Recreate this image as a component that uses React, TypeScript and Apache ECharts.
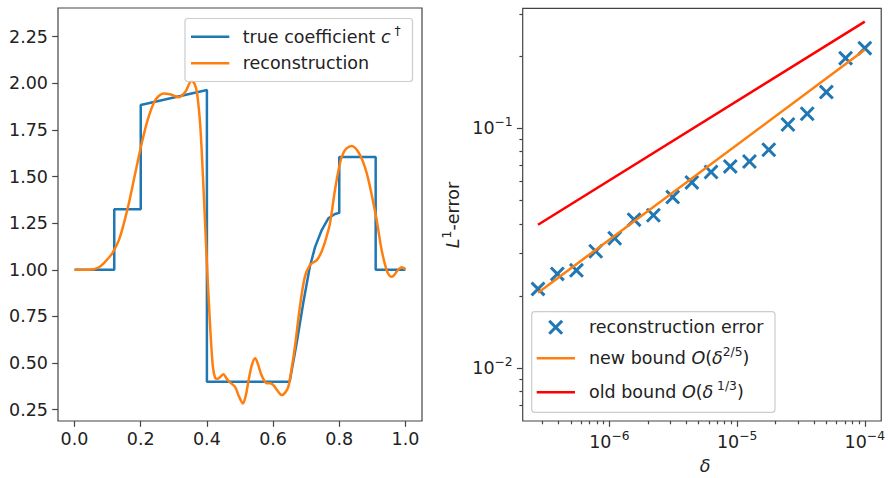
import React, { useEffect, useRef } from 'react';
import * as echarts from 'echarts';

// ---------- data: left panel ----------
const trueX = [0, 0.12, 0.12, 0.2, 0.2, 0.4, 0.4, 0.65, 0.671, 0.691, 0.711, 0.727, 0.747, 0.767, 0.787, 0.8, 0.8, 0.91, 0.91, 1.0];
const trueY = [1, 1, 1.324, 1.324, 1.884, 1.964, 0.4, 0.4, 0.605, 0.82, 1.016, 1.123, 1.213, 1.276, 1.299, 1.305, 1.605, 1.605, 1.0, 1.0];

const reconX = [0, 0.03, 0.058, 0.075, 0.088, 0.1, 0.114, 0.134, 0.149, 0.164, 0.179, 0.194, 0.209, 0.224, 0.244, 0.269, 0.289, 0.314, 0.335, 0.353, 0.362, 0.37, 0.38, 0.388, 0.395, 0.402, 0.41, 0.418, 0.425, 0.432, 0.44, 0.45, 0.46, 0.468, 0.485, 0.497, 0.509, 0.518, 0.526, 0.536, 0.546, 0.555, 0.563, 0.572, 0.581, 0.591, 0.601, 0.614, 0.626, 0.636, 0.646, 0.656, 0.666, 0.681, 0.696, 0.711, 0.722, 0.732, 0.742, 0.752, 0.762, 0.772, 0.787, 0.802, 0.812, 0.822, 0.837, 0.847, 0.857, 0.867, 0.877, 0.887, 0.897, 0.913, 0.928, 0.943, 0.951, 0.958, 0.966, 0.973, 0.981, 0.988, 0.994, 1.0];
const reconY = [1.0, 1.0, 1.003, 1.015, 1.034, 1.058, 1.088, 1.159, 1.249, 1.356, 1.481, 1.606, 1.723, 1.821, 1.91, 1.946, 1.941, 1.925, 1.955, 2.012, 2.0, 1.95, 1.77, 1.5, 1.23, 0.96, 0.69, 0.48, 0.42, 0.415, 0.425, 0.44, 0.415, 0.399, 0.372, 0.32, 0.283, 0.33, 0.408, 0.49, 0.525, 0.49, 0.444, 0.41, 0.391, 0.392, 0.381, 0.35, 0.328, 0.34, 0.372, 0.47, 0.587, 0.802, 0.962, 1.025, 1.04, 1.052, 1.08, 1.123, 1.18, 1.249, 1.428, 1.571, 1.625, 1.651, 1.664, 1.655, 1.633, 1.6, 1.553, 1.49, 1.41, 1.267, 1.106, 0.998, 0.97, 0.962, 0.972, 0.989, 1.005, 1.013, 1.01, 1.002];

const leftXTicks = [0, 0.2, 0.4, 0.6, 0.8, 1.0];
const leftYTicks = [0.25, 0.5, 0.75, 1.0, 1.25, 1.5, 1.75, 2.0, 2.25];

// ---------- data: right panel ----------
const deltas = [2.76e-7, 3.91e-7, 5.52e-7, 7.81e-7, 1.1e-6, 1.56e-6, 2.21e-6, 3.13e-6, 4.42e-6, 6.25e-6, 8.84e-6, 1.25e-5, 1.77e-5, 2.5e-5, 3.54e-5, 5e-5, 7.07e-5, 1e-4];
const errors = [0.02138, 0.02469, 0.02557, 0.0307, 0.0348, 0.0416, 0.0434, 0.0517, 0.0595, 0.0658, 0.0694, 0.0728, 0.0815, 0.1039, 0.1152, 0.1419, 0.1966, 0.2164];
const boundDelta = [2.76e-7, 1e-4];
const newBound = [0.0206, 0.213];
const oldBound = [0.0396, 0.2795];

const rightXMajor = [1e-6, 1e-5, 1e-4];
const rightXMinor = [3e-7, 4e-7, 5e-7, 6e-7, 7e-7, 8e-7, 9e-7, 2e-6, 3e-6, 4e-6, 5e-6, 6e-6, 7e-6, 8e-6, 9e-6, 2e-5, 3e-5, 4e-5, 5e-5, 6e-5, 7e-5, 8e-5, 9e-5];
const rightYMajor = [1e-2, 1e-1];
const rightYMinor = [7e-3, 8e-3, 9e-3, 2e-2, 3e-2, 4e-2, 5e-2, 6e-2, 7e-2, 8e-2, 9e-2, 2e-1, 3e-1];
const rightXRange = [2.094e-7, 1.345e-4];
const rightYRange = [6.0e-3, 0.3177];

// ---------- styles ----------
const FONT = 'DejaVu Sans';
const FS = 17.5;
const SUP = 12.3;
const TXT = '#222222';
const SPINE = '#444444';
const BLUE = '#1f77b4';
const ORANGE = '#ff7f0e';
const RED = '#ff0000';

const lg = (v: number) => Math.log10(v);

const xUnit: number[][] = [[1.4, 0], [5, 3.6], [8.6, 0], [10, 1.4], [6.4, 5], [10, 8.6], [8.6, 10], [5, 6.4], [1.4, 10], [0, 8.6], [3.6, 5], [0, 1.4]];
const xPath = 'path://M' + xUnit.map((p) => p[0] + ',' + p[1]).join('L') + 'Z';

const axisRich = {
  b: { fontSize: FS, fontFamily: FONT, lineHeight: 24, color: TXT },
  s: { fontSize: SUP, fontFamily: FONT, lineHeight: 14, verticalAlign: 'top', color: TXT },
};

const gRich = {
  n: { fontSize: FS, fontFamily: FONT, lineHeight: 24, fill: TXT },
  i: { fontSize: FS, fontFamily: FONT, fontStyle: 'italic', lineHeight: 24, fill: TXT },
  s: { fontSize: SUP, fontFamily: FONT, lineHeight: 14, verticalAlign: 'top', fill: TXT },
};

const tickStyle = { color: SPINE, width: 1.2 };
const noLine = { show: false, onZero: false };

function supLabel(v: number) {
  const e = Math.round(v);
  return '{b|10}{s|\u2212' + Math.abs(e) + '}';
}

function gText(x: number, y: number, text: string, extra: any = {}) {
  return {
    type: 'text',
    x,
    y,
    z: 20,
    ...extra,
    style: { text, rich: gRich, fill: TXT, align: 'left', verticalAlign: 'middle', fontFamily: FONT, fontSize: FS },
  };
}

export default function App() {
  const ref = useRef<HTMLDivElement>(null);
  useEffect(() => {
    if (!ref.current) return;
    const chart = echarts.init(ref.current, null, { renderer: 'svg' });

    const trueData = trueX.map((x, i) => [x, trueY[i]]);
    const reconData = reconX.map((x, i) => [x, reconY[i]]);
    const errData = deltas.map((d, i) => [lg(d), lg(errors[i])]);
    const newData = boundDelta.map((d, i) => [lg(d), lg(newBound[i])]);
    const oldData = boundDelta.map((d, i) => [lg(d), lg(oldBound[i])]);

    const mk = (cx: number, cy: number, s: number) => xUnit.map((p) => [cx + (p[0] - 5) * s, cy + (p[1] - 5) * s]);

    const option: any = {
      animation: false,
      backgroundColor: '#ffffff',
      grid: [
        { left: 58, top: 8, width: 364, height: 413, show: true, borderColor: SPINE, borderWidth: 1.2, backgroundColor: 'transparent' },
        { left: 522.7, top: 8.3, width: 364, height: 412.7, show: true, borderColor: SPINE, borderWidth: 1.2, backgroundColor: 'transparent' },
      ],
      xAxis: [
        {
          type: 'value', gridIndex: 0, position: 'bottom', min: -0.05, max: 1.05,
          splitLine: { show: false }, axisLine: noLine,
          axisTick: { show: true, length: 5.8, lineStyle: tickStyle, customValues: leftXTicks },
          axisLabel: { customValues: leftXTicks, formatter: (v: number) => v.toFixed(1), fontSize: FS, fontFamily: FONT, color: TXT, margin: 9, lineHeight: 17 },
        },
        {
          type: 'value', gridIndex: 1, position: 'bottom', min: lg(rightXRange[0]), max: lg(rightXRange[1]),
          splitLine: { show: false }, axisLine: noLine,
          axisTick: { show: true, length: 5.8, lineStyle: tickStyle, customValues: rightXMajor.map(lg) },
          axisLabel: { customValues: rightXMajor.map(lg), formatter: supLabel, rich: axisRich, margin: 9 },
        },
        {
          type: 'value', gridIndex: 1, position: 'bottom', min: lg(rightXRange[0]), max: lg(rightXRange[1]),
          splitLine: { show: false }, axisLine: noLine,
          axisTick: { show: true, length: 3.3, lineStyle: tickStyle, customValues: rightXMinor.map(lg) },
          axisLabel: { show: false },
        },
      ],
      yAxis: [
        {
          type: 'value', gridIndex: 0, position: 'left', min: 0.189, max: 2.404,
          splitLine: { show: false }, axisLine: noLine,
          axisTick: { show: true, length: 5.8, lineStyle: tickStyle, customValues: leftYTicks },
          axisLabel: { customValues: leftYTicks, formatter: (v: number) => v.toFixed(2), fontSize: FS, fontFamily: FONT, color: TXT, margin: 10 },
        },
        {
          type: 'value', gridIndex: 1, position: 'left', min: lg(rightYRange[0]), max: lg(rightYRange[1]),
          splitLine: { show: false }, axisLine: noLine,
          axisTick: { show: true, length: 5.8, lineStyle: tickStyle, customValues: rightYMajor.map(lg) },
          axisLabel: { customValues: rightYMajor.map(lg), formatter: supLabel, rich: axisRich, margin: 10 },
        },
        {
          type: 'value', gridIndex: 1, position: 'left', min: lg(rightYRange[0]), max: lg(rightYRange[1]),
          splitLine: { show: false }, axisLine: noLine,
          axisTick: { show: true, length: 3.3, lineStyle: tickStyle, customValues: rightYMinor.map(lg) },
          axisLabel: { show: false },
        },
      ],
      series: [
        {
          name: 'true coefficient', type: 'line', xAxisIndex: 0, yAxisIndex: 0, data: trueData,
          symbol: 'none', showSymbol: false, lineStyle: { color: BLUE, width: 2.5 }, z: 2,
        },
        {
          name: 'reconstruction', type: 'line', xAxisIndex: 0, yAxisIndex: 0, data: reconData,
          symbol: 'none', showSymbol: false, smooth: 0.3, lineStyle: { color: ORANGE, width: 2.5 }, z: 3,
        },
        {
          name: 'reconstruction error', type: 'scatter', xAxisIndex: 1, yAxisIndex: 1, data: errData,
          symbol: xPath, symbolSize: 15, itemStyle: { color: BLUE, opacity: 1 }, z: 2,
        },
        {
          name: 'new bound', type: 'line', xAxisIndex: 1, yAxisIndex: 1, data: newData,
          symbol: 'none', showSymbol: false, lineStyle: { color: ORANGE, width: 2.5 }, z: 3,
        },
        {
          name: 'old bound', type: 'line', xAxisIndex: 1, yAxisIndex: 1, data: oldData,
          symbol: 'none', showSymbol: false, lineStyle: { color: RED, width: 2.5 }, z: 4,
        },
      ],
      graphic: [
        // left legend
        { type: 'rect', z: 19, shape: { x: 185, y: 18.5, width: 227.5, height: 63, r: 3 }, style: { fill: 'rgba(255,255,255,0.8)', stroke: '#cccccc', lineWidth: 1.2 } },
        { type: 'line', z: 20, shape: { x1: 191, y1: 36.7, x2: 229.3, y2: 36.7 }, style: { stroke: BLUE, lineWidth: 2.5 } },
        gText(242.7, 36.7, '{n|true coefficient }{i|c}{s| \u2020}'),
        { type: 'line', z: 20, shape: { x1: 191, y1: 63.3, x2: 229.3, y2: 63.3 }, style: { stroke: ORANGE, lineWidth: 2.5 } },
        gText(242.7, 63.3, '{n|reconstruction}'),
        // right legend
        { type: 'rect', z: 19, shape: { x: 531.7, y: 311.7, width: 243.3, height: 100.6, r: 3 }, style: { fill: 'rgba(255,255,255,0.8)', stroke: '#cccccc', lineWidth: 1.2 } },
        { type: 'polygon', z: 20, shape: { points: mk(555.7, 327.3, 1.5) }, style: { fill: BLUE } },
        gText(589, 327.3, '{n|reconstruction error}'),
        { type: 'line', z: 20, shape: { x1: 536.7, y1: 358.3, x2: 575, y2: 358.3 }, style: { stroke: ORANGE, lineWidth: 2.5 } },
        gText(589, 358.3, '{n|new bound }{i|O}{n|(}{i|\u03b4}{s|2/5}{n|)}'),
        { type: 'line', z: 20, shape: { x1: 536.7, y1: 392.3, x2: 575, y2: 392.3 }, style: { stroke: RED, lineWidth: 2.5 } },
        gText(589, 392.3, '{n|old bound }{i|O}{n|(}{i|\u03b4}{s| 1/3}{n|)}'),
        // axis titles
        {
          type: 'text', x: 453.3, y: 215, rotation: Math.PI / 2, z: 20,
          style: { text: '{i|L}{s|1}{n|-error}', rich: gRich, fill: TXT, align: 'center', verticalAlign: 'middle', fontFamily: FONT, fontSize: FS },
        },
        {
          type: 'text', x: 705, y: 466, z: 20,
          style: { text: '{i|\u03b4}', rich: gRich, fill: TXT, align: 'center', verticalAlign: 'middle', fontFamily: FONT, fontSize: FS },
        },
      ],
    };

    chart.setOption(option);
    return () => chart.dispose();
  }, []);

  return <div ref={ref} style={{ position: 'fixed', left: 0, top: 0, width: 888, height: 478, background: '#fff' }} />;
}
